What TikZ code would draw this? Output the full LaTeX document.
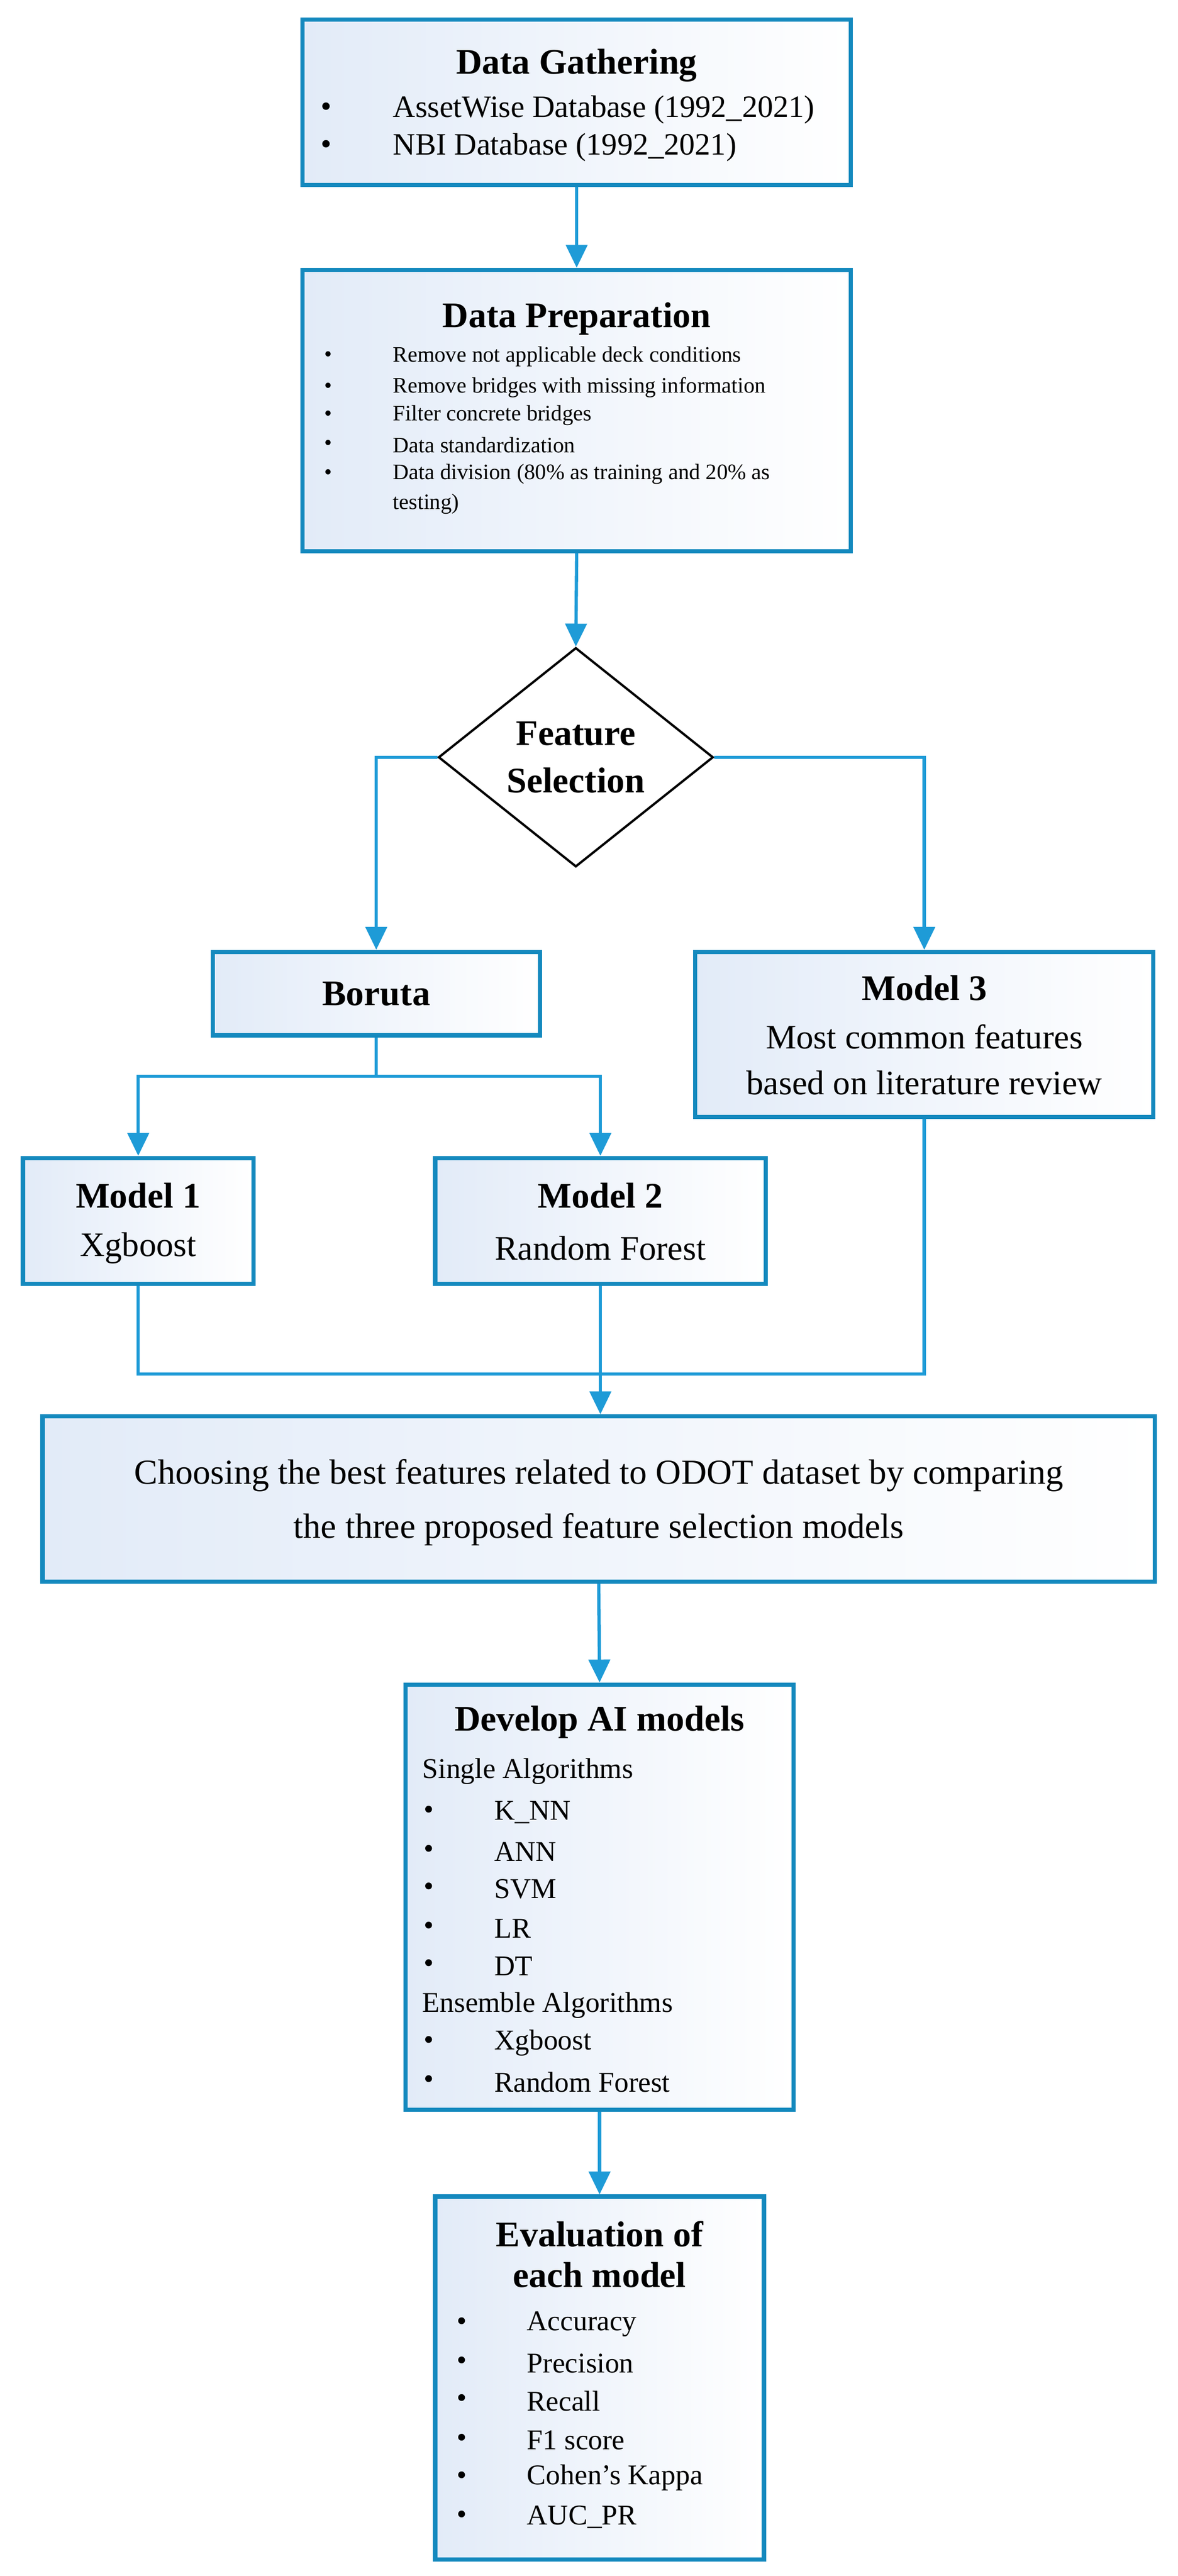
\documentclass[tikz,border=0pt]{standalone}
\usepackage{fontspec}
\setmainfont{Liberation Serif}
\usetikzlibrary{arrows.meta,shapes.geometric}
\definecolor{bd}{RGB}{20,137,190}
\definecolor{ln}{RGB}{30,155,215}
\definecolor{fl}{RGB}{226,235,248}
\begin{document}
\begin{tikzpicture}[x=1pt,y=-1pt,
 box/.style={draw=bd,line width=2.6pt,left color=fl,right color=white,inner sep=0pt},
 dia/.style={diamond,draw=black,line width=1.4pt,fill=white,inner sep=0pt,minimum width=168pt,minimum height=134pt,aspect=1.25},
 ar/.style={draw=ln,line width=2pt,-{Triangle[width=13pt,length=14pt]}},
 li/.style={draw=ln,line width=2pt},
 tt/.style={font=\fontsize{22}{26}\selectfont\bfseries,inner sep=0pt},
 tx/.style={inner sep=0pt,anchor=west},
]
\useasboundingbox (0,0) rectangle (720,1575);
% boxes
\node[box,minimum width=335pt,minimum height=101pt] (dg) at (352.5,62.5) {};
\node[tt] (dgt) at (352.5,40) {Data Gathering};
\foreach \y/\t [count=\i] in {67/AssetWise Database (1992\_2021),90/NBI Database (1992\_2021)}{
 \node[tx,font=\fontsize{19}{22}\selectfont] (dgb\i) at (196,\y) {\textbullet};
 \node[tx,font=\fontsize{19}{22}\selectfont] (dgi\i) at (240,\y) {\t};}

\node[box,minimum width=335pt,minimum height=172pt] (dp) at (352.5,251) {};
\node[tt] (dpt) at (352.5,195) {Data Preparation};
\foreach \y/\t [count=\i] in {218/Remove not applicable deck conditions,237/Remove bridges with missing information,254/Filter concrete bridges,272/Data standardization,290/Data division (80\% as training and 20\% as,308/testing)}{
 \node[tx,font=\fontsize{13.5}{16}\selectfont] (dpi\i) at (240,\y) {\t};}
\foreach \y [count=\i] in {218,237,254,272,290}{
 \node[tx,font=\fontsize{13.5}{16}\selectfont] (dpb\i) at (198,\y) {\textbullet};}

\node[dia] (fs) at (352,463) {};
\node[tt,align=center,font=\fontsize{22}{29}\selectfont\bfseries] (fst) at (352,463) {Feature\\Selection};

\node[box,minimum width=200pt,minimum height=51pt] (bo) at (230,607.5) {};
\node[tt] (bot) at (230,607.5) {Boruta};

\node[box,minimum width=280pt,minimum height=101pt] (m3) at (565,632.5) {};
\node[tt] (m3t) at (565,604) {Model 3};
\node[inner sep=0pt,font=\fontsize{21}{24}\selectfont] (m3a) at (565,634) {Most common features};
\node[inner sep=0pt,font=\fontsize{21}{24}\selectfont] (m3b) at (565,662) {based on literature review};

\node[box,minimum width=141pt,minimum height=77pt] (m1) at (84.5,746.5) {};
\node[tt] (m1t) at (84.5,731) {Model 1};
\node[inner sep=0pt,font=\fontsize{21}{24}\selectfont] (m1a) at (84.5,763) {Xgboost};

\node[box,minimum width=202pt,minimum height=77pt] (m2) at (367,746.5) {};
\node[tt] (m2t) at (367,731) {Model 2};
\node[inner sep=0pt,font=\fontsize{21}{24}\selectfont] (m2a) at (367,763) {Random Forest};

\node[box,minimum width=680pt,minimum height=101pt] (ch) at (366,916.5) {};
\node[inner sep=0pt,font=\fontsize{21.5}{24}\selectfont] (cha) at (366,902) {Choosing the best features related to ODOT dataset by comparing};
\node[inner sep=0pt,font=\fontsize{21.5}{24}\selectfont] (chb) at (366,935) {the three proposed feature selection models};

\node[box,minimum width=237pt,minimum height=260pt] (ai) at (366.5,1160) {};
\node[tt] (ait) at (366.5,1053) {Develop AI models};
\node[tx,font=\fontsize{17.5}{20}\selectfont] (ais) at (258,1083) {Single Algorithms};
\node[tx,font=\fontsize{17.5}{20}\selectfont] (aie) at (258,1226) {Ensemble Algorithms};
\foreach \y/\t [count=\i] in {1108/K\_NN,1132/ANN,1155/SVM,1179/LR,1202/DT,1249/Xgboost,1273/Random Forest}{
 \node[tx,font=\fontsize{17.5}{20}\selectfont] (aib\i) at (259,\y) {\textbullet};
 \node[tx,font=\fontsize{17.5}{20}\selectfont] (aii\i) at (302,\y) {\t};}

\node[box,minimum width=201pt,minimum height=222pt] (ev) at (366.5,1454) {};
\node[tt] (evt1) at (366.5,1366) {Evaluation of};
\node[tt] (evt2) at (366.5,1391) {each model};
\foreach \y/\t [count=\i] in {1421/Accuracy,1445/Precision,1468/Recall,1492/F1 score,1515/Cohen’s Kappa,1539/AUC\_PR}{
 \node[tx,font=\fontsize{17.5}{20}\selectfont] (evb\i) at (279,\y) {\textbullet};
 \node[tx,font=\fontsize{17.5}{20}\selectfont] (evi\i) at (322,\y) {\t};}

% connectors
\coordinate (j1) at (230,658);
\coordinate (j2) at (367,840);
\draw[ar] (dg.south) -- (dp.south |- dp.north);
\draw[ar] (dp.south) -- (fs.north);
\draw[ar] (fs.west) -| (bo.north);
\draw[ar] (fs.east) -| (m3.north);
\draw[li] (bo.south) -- (j1);
\draw[ar] (j1) -| (m1.north);
\draw[ar] (j1) -| (m2.north);
\draw[li] (m1.south) |- (j2);
\draw[li] (m3.south) |- (j2);
\draw[li] (m2.south) -- (j2);
\draw[ar] (j2) -- (j2 |- ch.north);
\draw[ar] (ch.south) -- (ai.north);
\draw[ar] (ai.south) -- (ev.north);
\end{tikzpicture}
\end{document}
